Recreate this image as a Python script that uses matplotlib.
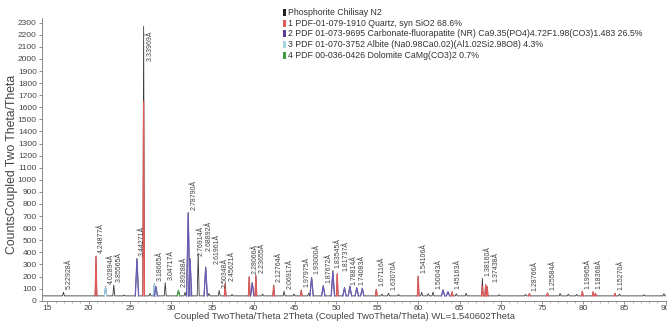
import matplotlib
matplotlib.use("Agg")
import matplotlib.pyplot as plt
from matplotlib.patches import Rectangle

plt.rcParams['font.family'] = ['Liberation Sans', 'DejaVu Sans']

# background level of the scan (counts)
background = 40

peak_pos = [16.94, 20.89, 22.05, 23.05, 24.3, 25.86, 26.67, 27.45, 27.98, 28.15,
            29.29, 30.89, 31.7, 32.08, 32.30, 33.29, 34.20, 34.6, 35.84, 36.56,
            37.4, 39.48, 39.85, 40.29, 41.1, 42.45, 43.71, 44.9, 45.80, 46.7,
            47.05, 48.47, 49.63, 50.16, 51.04, 51.7, 52.53, 53.2, 54.90, 55.6,
            56.38, 57.6, 59.98, 60.4, 61.2, 61.78, 63.0, 63.6, 64.10, 64.6,
            65.8, 67.77, 68.17, 68.35, 69.8, 73.0, 73.48, 75.67, 77.2, 78.2,
            79.2, 79.90, 81.21, 81.5, 83.86, 84.4, 87.4, 89.8]
peak_obs = [70, 370, 116, 130, 48, 350, 2270, 60, 144, 120,
            149, 88, 70, 730, 350, 390, 280, 60, 85, 140,
            52, 200, 150, 210, 55, 130, 78, 55, 88, 62,
            195, 125, 250, 225, 110, 120, 110, 105, 95, 55,
            62, 52, 205, 70, 58, 72, 90, 75, 75, 58,
            62, 185, 135, 120, 50, 52, 60, 65, 60, 55,
            52, 78, 75, 62, 62, 55, 50, 58]
peak_calc = [0, 365, 110, 0, 0, 345, 1650, 0, 140, 115,
             0, 85, 0, 725, 345, 0, 275, 0, 0, 138,
             0, 195, 148, 205, 0, 128, 0, 0, 86, 0,
             192, 122, 240, 220, 105, 118, 105, 100, 92, 0,
             0, 0, 200, 0, 0, 0, 88, 72, 72, 0,
             0, 120, 132, 118, 0, 0, 58, 62, 0, 0,
             0, 76, 72, 60, 60, 0, 0, 0]
peak_phase = ['', 'Q', 'B', '', '', 'A', 'Q', '', 'B', 'A',
              '', 'D', '', 'A', 'A', '', 'A', '', '', 'Q',
              '', 'Q', 'A', 'Q', '', 'Q', '', '', 'Q', '',
              'A', 'A', 'A', 'Q', 'A', 'A', 'A', 'A', 'Q', '',
              '', '', 'Q', '', '', '', 'A', 'A', 'Q', '',
              '', 'Q', 'Q', 'Q', '', '', 'Q', 'Q', '', '',
              '', 'Q', 'Q', 'Q', 'Q', '', '', '']
peak_label = ['5.22928Å', '4.24877Å', '4.02894Å', '3.85565Å', '', '3.44271Å', '3.33969Å', '', '3.18665Å', '',
              '3.04717Å', '2.89288Å', '', '2.78790Å', '2.76914Å', '2.68892Å', '2.61961Å', '', '2.50348Å', '2.45621Å',
              '', '2.28066Å', '', '2.23655Å', '', '2.12764Å', '2.06917Å', '', '1.97975Å', '',
              '1.93000Å', '1.87672Å', '1.83545Å', '1.81737Å', '1.78814Å', '', '1.74083Å', '', '1.67116Å', '',
              '1.63070Å', '', '1.54106Å', '', '', '1.50043Å', '', '', '1.45163Å', '',
              '', '1.38160Å', '1.37438Å', '', '', '', '1.28766Å', '1.25584Å', '', '',
              '', '1.19965Å', '1.18368Å', '', '1.15270Å', '', '', '']

phase_color = {'Q': '#e05a5a', 'A': '#6a5fb8', 'B': '#9ccbe0', 'D': '#4a9e4a'}
half_width = {'Q': 0.1, 'A': 0.2, 'B': 0.15, 'D': 0.15, '': 0.12}

legend_text = ["Phosphorite Chilisay N2",
               "1 PDF-01-079-1910 Quartz, syn SiO2 68.6%",
               "2 PDF 01-073-9695 Carbonate-fluorapatite (NR) Ca9.35(PO4)4.72F1.98(CO3)1.483 26.5%",
               "3 PDF 01-070-3752 Albite (Na0.98Ca0.02)(Al1.02Si2.98O8) 4.3%",
               "4 PDF 00-036-0426 Dolomite CaMg(CO3)2 0.7%"]
legend_color = ['#222222', '#e05a5a', '#5a3d9a', '#a8d4e0', '#3c9a3c']

x_min, x_max = 14.3, 90.05
y_max = 2340

fig = plt.figure(figsize=(6.67, 3.22), dpi=100)
ax = fig.add_axes([0.0625, 0.0661, 0.936, 0.8786])

# measured scan as one line through every peak
mx = [x_min]
my = [background]
for p, h, ph in zip(peak_pos, peak_obs, peak_phase):
    w = half_width[ph]
    mx += [p - w, p, p + w]
    my += [background, h, background]
mx.append(x_max)
my.append(background)
ax.plot(mx, my, color='#3a3a3a', lw=0.6, zorder=2)

# phase lines on top
for p, c, ph in zip(peak_pos, peak_calc, peak_phase):
    if ph == '' or c == 0:
        continue
    w = half_width[ph]
    ax.plot([p - w, p, p + w], [background, c, background],
            color=phase_color[ph], lw=0.9, zorder=3)

# d-spacing labels, nudged right when they would sit on the previous one
ax.set_xlim(x_min, x_max)
ax.set_ylim(0, y_max)
pts_per_deg = 0.936 * 6.67 * 72 / (x_max - x_min)
last_x = -100
for p, h, lab in zip(peak_pos, peak_obs, peak_label):
    if lab == '':
        continue
    dx = 1.5
    px = p * pts_per_deg + dx
    if px - last_x < 5.5:
        dx += last_x + 5.5 - px
        px = last_x + 5.5
    last_x = px
    if h > 1500:
        ax.annotate(lab, (p, h), xytext=(dx, -3), textcoords='offset points',
                    rotation=90, fontsize=5, ha='left', va='top', color='#444444')
    else:
        ax.annotate(lab, (p, h), xytext=(dx, 2), textcoords='offset points',
                    rotation=90, fontsize=5, ha='left', va='bottom', color='#444444')

ax.set_xticks(range(15, 91, 5))
ax.set_xticks(range(15, 91, 1), minor=True)
ax.set_yticks(range(0, 2301, 100))
ax.tick_params(axis='both', which='major', labelsize=6, length=2.5, width=0.5,
               color='#666666', labelcolor='#444444', pad=1)
ax.tick_params(axis='x', which='major', pad=0.5)
ax.tick_params(axis='x', which='minor', length=1.5, width=0.4, color='#888888')
ax.spines['top'].set_visible(False)
ax.spines['right'].set_visible(False)
for s in ['left', 'bottom']:
    ax.spines[s].set_color('#777777')
    ax.spines[s].set_linewidth(0.6)

fig.text(345 / 667, 1 - 316.5 / 322,
         "Coupled TwoTheta/Theta 2Theta (Coupled TwoTheta/Theta) WL=1.540602Theta",
         ha='center', va='center', fontsize=6.8, color='#444444')
fig.text(12.5 / 667, 0.488, "CountsCoupled Two Theta/Theta", rotation=90,
         ha='center', va='center', fontsize=8.8, color='#444444')

# legend block top right
for i, (txt, col) in enumerate(zip(legend_text, legend_color)):
    yc = 12.3 + i * 10.7
    fig.add_artist(Rectangle((283 / 667, 1 - (yc + 3.5) / 322), 2.5 / 667, 7 / 322,
                             transform=fig.transFigure, color=col, lw=0))
    fig.text(288 / 667, 1 - yc / 322, txt, ha='left', va='center',
             fontsize=6.3, color='#333333')

fig.savefig("out.png", dpi=100)
